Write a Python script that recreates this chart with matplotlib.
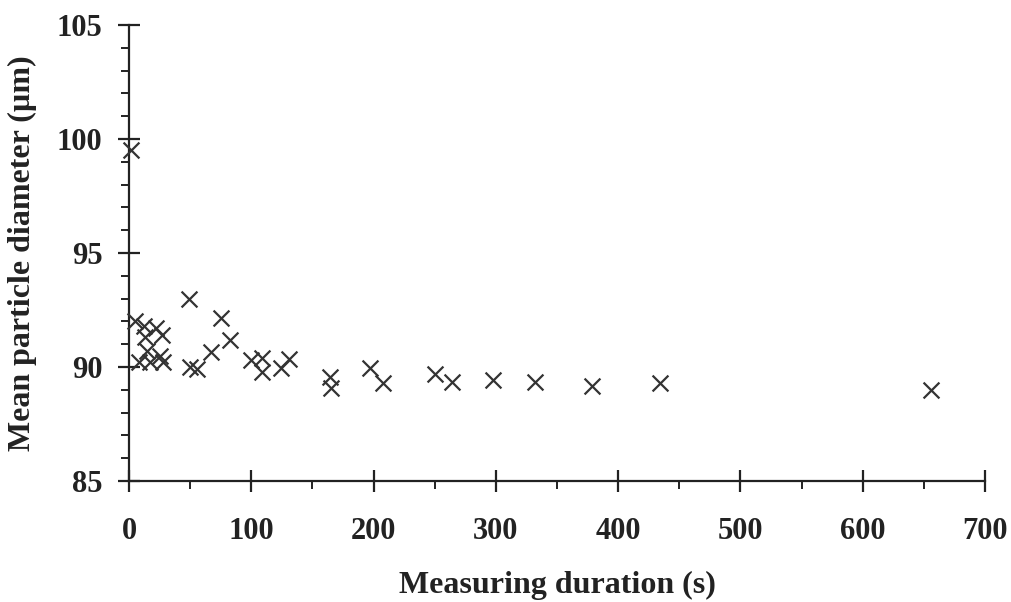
import matplotlib
matplotlib.use('Agg')
import matplotlib.pyplot as plt
from matplotlib.ticker import MultipleLocator

# Measuring duration (s) and mean particle diameter (um)
duration = [2, 5, 12, 22, 13, 27, 15, 25, 8, 17, 28,
            49, 75, 83, 67, 50, 56, 100, 109, 109, 124, 131,
            164, 165, 197, 208, 250, 264, 298, 332, 379, 434, 656]
diameter = [99.5, 92.0, 91.8, 91.7, 91.3, 91.4, 90.7, 90.5, 90.2, 90.2, 90.2,
            93.0, 92.15, 91.2, 90.65, 90.0, 89.9, 90.3, 90.4, 89.8, 89.95, 90.35,
            89.55, 89.1, 89.95, 89.3, 89.7, 89.35, 89.45, 89.35, 89.15, 89.3, 89.0]

plt.rcParams['font.family'] = ['Liberation Serif', 'DejaVu Serif']
ink = '#222222'

fig = plt.figure(figsize=(10.11, 6.02), dpi=100)
ax = fig.add_axes([129 / 1011, 1 - 481 / 602, 856 / 1011, 456 / 602])

ax.scatter(duration, diameter, marker='x', s=130, linewidths=1.6, color='#333333', clip_on=False, zorder=3)

ax.set_xlim(0, 700)
ax.set_ylim(85, 105)
ax.xaxis.set_major_locator(MultipleLocator(100))
ax.xaxis.set_minor_locator(MultipleLocator(50))
ax.yaxis.set_major_locator(MultipleLocator(5))
ax.yaxis.set_minor_locator(MultipleLocator(1))

for s in ['top', 'right']:
    ax.spines[s].set_visible(False)
for s in ['left', 'bottom']:
    ax.spines[s].set_linewidth(1.6)
    ax.spines[s].set_color(ink)

ax.tick_params(which='major', direction='inout', length=16, width=1.6, colors=ink, labelsize=22)
ax.tick_params(axis='x', which='major', pad=18)
ax.tick_params(axis='y', which='major', pad=11)
ax.tick_params(which='minor', direction='out', length=5.5, width=1.4, colors=ink)
for lab in ax.get_xticklabels() + ax.get_yticklabels():
    lab.set_fontweight('bold')

ax.set_xlabel('Measuring duration (s)', fontsize=23, fontweight='bold', color=ink, labelpad=18)
ax.set_ylabel('Mean particle diameter (µm)', fontsize=23, fontweight='bold', color=ink, labelpad=14)

fig.savefig('out.png', dpi=100)
